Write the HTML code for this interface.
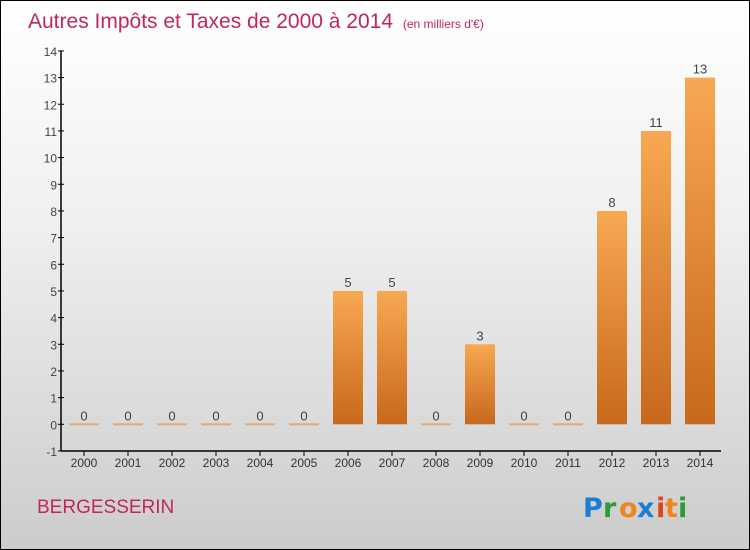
<!DOCTYPE html>
<html><head><meta charset="utf-8"><style>
body{margin:0;}
#wrap{position:relative;width:748px;height:548px;border:1px solid #000;background:linear-gradient(#ffffff 0%,#f0f0f0 40%,#cccccc 100%);font-family:"Liberation Sans",sans-serif;overflow:hidden;}
</style></head><body>
<div id="wrap">
<svg width="748" height="548">
<defs><linearGradient id="g" x1="0" y1="0" x2="0" y2="1"><stop offset="0" stop-color="#f8a852"/><stop offset="1" stop-color="#c8681c"/></linearGradient></defs>
<text x="27" y="27" font-size="21" fill="#c0285a">Autres Impôts et Taxes de 2000 à 2014 <tspan font-size="12" dx="4">(en milliers d'€)</tspan></text>
<g id="plot"></g>
<text x="36" y="512" font-size="19" fill="#c0285a">BERGESSERIN</text>
<g font-size="27" font-family="'DejaVu Sans',sans-serif" font-weight="bold">
<text x="582" y="516" fill="#1a7fd4">P</text><text x="602" y="516" fill="#2f9a3a">r</text><text x="618" y="516" fill="#f0861a">o</text><text x="636" y="516" fill="#1a7fd4">x</text><text x="655" y="516" fill="#e5421a">i</text><text x="664" y="516" fill="#f0861a">t</text><text x="677" y="516" fill="#2f9a3a">i</text>
</g>
</svg>
</div>
<script>
const years=["2000","2001","2002","2003","2004","2005","2006","2007","2008","2009","2010","2011","2012","2013","2014"];
const values=[0,0,0,0,0,0,5,5,0,3,0,0,8,11,13];
const yTicks=[-1,0,1,2,3,4,5,6,7,8,9,10,11,12,13,14];
const NS="http://www.w3.org/2000/svg";
const g=document.getElementById('plot');
const y=v=>423.3-v*26.67;
const x=i=>83+i*44;
function mk(t,a,txt){const e=document.createElementNS(NS,t);for(const k in a)e.setAttribute(k,a[k]);if(txt!==undefined)e.textContent=txt;g.appendChild(e);return e;}
let ax=mk('line',{x1:60,y1:y(14),x2:60,y2:y(-1),stroke:'#000','stroke-width':1.5});


let bx=mk('line',{x1:60,y1:y(-1),x2:720,y2:y(-1),stroke:'#000','stroke-width':1.5});


yTicks.forEach(v=>{
 let t=mk('line',{x1:57,x2:63,y1:y(v),y2:y(v),stroke:'#000'});
 
 
 let l=mk('text',{x:56,y:y(v)+5,'font-size':12,fill:'#444','text-anchor':'end'},String(v));
 
 
});
years.forEach((yr,i)=>{
 let t=mk('line',{x1:x(i),x2:x(i),y1:y(-1),y2:y(-1)+5,stroke:'#000'});
 
 
 let l=mk('text',{x:x(i),y:466,'font-size':12,fill:'#333','text-anchor':'middle'},yr);
 
 
 const v=values[i];
 let b;
 if(v===0){b=mk('rect',{x:x(i)-15,y:y(0)-1,width:30,height:2,fill:'#e8a870'});}
 else{b=mk('rect',{x:x(i)-15,y:y(v),width:30,height:y(0)-y(v),fill:'url(#g)'});}
 
 
 let vl=mk('text',{x:x(i),y:y(v)-4,'font-size':13,fill:'#444','text-anchor':'middle'},String(v));
 
 
});
</script>
</body></html>
